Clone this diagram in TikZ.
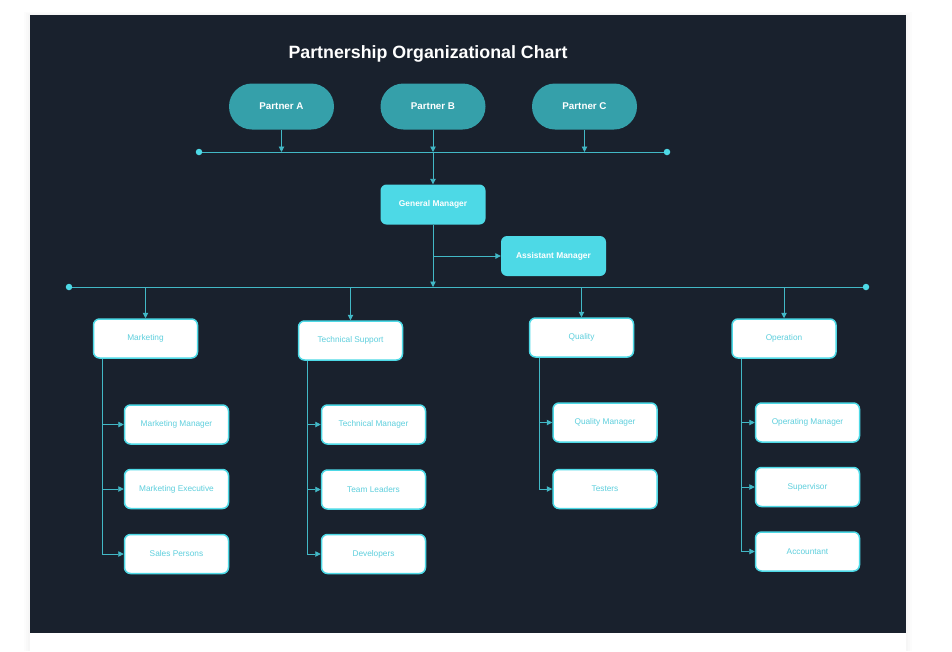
\documentclass[tikz,border=0pt]{standalone}
\usepackage{fontspec}
\setmainfont{Liberation Sans}
\usetikzlibrary{arrows.meta,calc}
\definecolor{panelbg}{HTML}{19212D}
\definecolor{partnerc}{HTML}{35A0AA}
\definecolor{mgrc}{HTML}{4DD9E6}
\definecolor{linec}{HTML}{42B8C6}
\definecolor{deptc}{HTML}{4DD9E6}
\definecolor{depttext}{HTML}{5ECFDD}
\begin{document}
\begin{tikzpicture}[x=1pt,y=-1pt,
  partner/.style={rectangle,rounded corners=23pt,fill=partnerc,minimum width=105pt,minimum height=46pt,inner sep=0pt,text=white,font=\fontsize{9.8}{11}\selectfont\bfseries},
  mgr/.style={rectangle,rounded corners=6pt,fill=mgrc,minimum width=105pt,minimum height=40pt,inner sep=0pt,text=white,font=\fontsize{8.4}{10}\selectfont\bfseries},
  dept/.style={rectangle,rounded corners=6pt,fill=white,draw=deptc,line width=1.5pt,minimum width=104pt,minimum height=39pt,inner sep=0pt,text=depttext,font=\fontsize{8.3}{10}\selectfont},
  conn/.style={draw=linec,line width=0.9pt},
  arr/.style={conn,-{Triangle[length=5.5pt,width=5.5pt]}},
  dotc/.style={circle,fill=mgrc,inner sep=0pt,minimum size=6.5pt}]
\useasboundingbox (0,0) rectangle (952,651);
\fill[white] (0,0) rectangle (952,651);
% shadow
\foreach \i in {1,2,3}{\fill[black,opacity=0.012] (30-\i*2,15-\i) rectangle (906+\i*2,651);}
\fill[white] (30,15) rectangle (906,651);
\fill[panelbg] (30,15) rectangle (906,633);
\node[text=white,font=\fontsize{17.8}{22}\selectfont\bfseries] (title) at (428,53.5) {Partnership Organizational Chart};
% partners
\node[partner] (pA) at (281.5,106.5) {Partner A};
\node[partner] (pB) at (433,106.5) {Partner B};
\node[partner] (pC) at (584.5,106.5) {Partner C};
\node[dotc] (b1L) at (199,152) {};
\node[dotc] (b1R) at (667,152) {};
\draw[conn] (b1L) -- (b1R);
\draw[arr] (pA.south) -- (pA.south |- b1L.center);
\draw[arr] (pB.south) -- (pB.south |- b1L.center);
\draw[arr] (pC.south) -- (pC.south |- b1L.center);
% managers
\node[mgr] (gm) at (433,204.5) {General Manager};
\node[mgr] (am) at (553.5,256) {Assistant Manager};
\draw[arr] (pB.south |- b1L.center) -- (gm.north);
\node[dotc] (b2L) at (69,287) {};
\node[dotc] (b2R) at (866,287) {};
\draw[conn] (b2L) -- (b2R);
\draw[arr] (gm.south) -- (gm.south |- b2L.center);
\draw[arr] (gm.south |- am.west) -- (am.west);
% departments
\node[dept] (mk) at (145.5,338.5) {Marketing};
\node[dept] (ts) at (350.5,340.5) {Technical Support};
\node[dept] (qa) at (581.5,337.5) {Quality};
\node[dept] (op) at (784,338.5) {Operation};
\foreach \d in {mk,ts,qa,op}{\draw[arr] (\d.north |- b2L.center) -- (\d.north);}
% children
\node[dept] (mkm) at (176.5,424.5) {Marketing Manager};
\node[dept] (mke) at (176.5,489) {Marketing Executive};
\node[dept] (mks) at (176.5,554) {Sales Persons};
\node[dept] (tsm) at (373.5,424.5) {Technical Manager};
\node[dept] (tst) at (373.5,489.5) {Team Leaders};
\node[dept] (tsd) at (373.5,554) {Developers};
\node[dept] (qam) at (605,422.5) {Quality Manager};
\node[dept] (qat) at (605,489) {Testers};
\node[dept] (opm) at (807.5,422.5) {Operating Manager};
\node[dept] (ops) at (807.5,487) {Supervisor};
\node[dept] (opa) at (807.5,551.5) {Accountant};
\coordinate (mkx) at ($(mk.south west)+(10,0)$);
\coordinate (tsx) at ($(ts.south west)+(10,0)$);
\coordinate (qax) at ($(qa.south west)+(11,0)$);
\coordinate (opx) at ($(op.south west)+(10,0)$);
\foreach \c in {mkm,mke,mks}{\draw[arr] (mkx) |- (\c.west);}
\foreach \c in {tsm,tst,tsd}{\draw[arr] (tsx) |- (\c.west);}
\foreach \c in {qam,qat}{\draw[arr] (qax) |- (\c.west);}
\foreach \c in {opm,ops,opa}{\draw[arr] (opx) |- (\c.west);}
\end{tikzpicture}
\end{document}
